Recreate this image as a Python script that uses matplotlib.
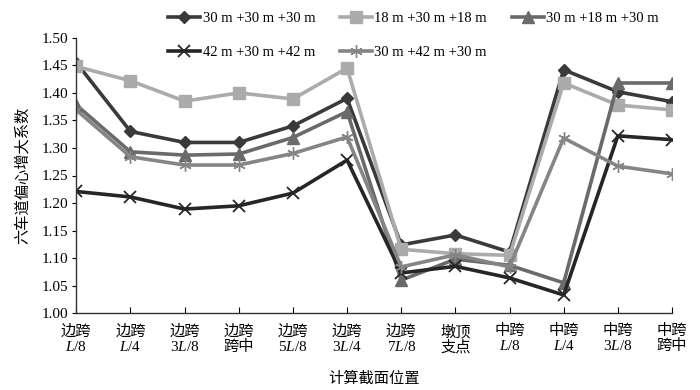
import numpy as np
import matplotlib
matplotlib.use('Agg')
import matplotlib.pyplot as plt

plt.rcParams['font.family'] = ['Liberation Serif', 'Noto Sans CJK SC']
plt.rcParams['mathtext.fontset'] = 'custom'
plt.rcParams['mathtext.rm'] = 'Liberation Serif'
plt.rcParams['mathtext.it'] = 'Liberation Serif:italic'

# section positions along the bridge
sections = ['边跨\n$L$/8', '边跨\n$L$/4', '边跨\n3$L$/8', '边跨\n跨中', '边跨\n5$L$/8',
            '边跨\n3$L$/4', '边跨\n7$L$/8', '墩顶\n支点', '中跨\n$L$/8', '中跨\n$L$/4',
            '中跨\n3$L$/8', '中跨\n跨中']

s30_30_30 = [1.455, 1.330, 1.310, 1.310, 1.340, 1.390, 1.124, 1.142, 1.111, 1.442, 1.402, 1.384]
s18_30_18 = [1.448, 1.422, 1.385, 1.400, 1.389, 1.445, 1.116, 1.108, 1.105, 1.418, 1.378, 1.369]
s30_18_30 = [1.378, 1.293, 1.287, 1.289, 1.319, 1.366, 1.060, 1.098, 1.087, 1.055, 1.418, 1.418]
s42_30_42 = [1.221, 1.211, 1.189, 1.195, 1.218, 1.278, 1.073, 1.085, 1.064, 1.033, 1.322, 1.315]
s30_42_30 = [1.369, 1.284, 1.269, 1.269, 1.290, 1.320, 1.084, 1.106, 1.084, 1.318, 1.267, 1.253]

yticks = [1.00, 1.05, 1.10, 1.15, 1.20, 1.25, 1.30, 1.35, 1.40, 1.45, 1.50]

x = np.arange(len(sections))

fig = plt.figure(figsize=(7, 3.9), dpi=100)
ax = fig.add_axes([0.109, 0.197, 0.851, 0.706])

l1, = ax.plot(x, s30_30_30, color='#3a3a3a', lw=2.6, marker='D', ms=6, label='30 m +30 m +30 m')
l2, = ax.plot(x, s18_30_18, color='#ababab', lw=2.6, marker='s', ms=8, label='18 m +30 m +18 m')
l3, = ax.plot(x, s30_18_30, color='#6a6a6a', lw=2.6, marker='^', ms=8, label='30 m +18 m +30 m')
l4, = ax.plot(x, s42_30_42, color='#262626', lw=2.6, marker='x', ms=9, mew=1.3, label='42 m +30 m +42 m')
l5, = ax.plot(x, s30_42_30, color='#858585', lw=2.6, marker=(6, 2, 0), ms=9, mew=1.0, label='30 m +42 m +30 m')

ax.set_xlim(0, 11)
ax.set_ylim(1.0, 1.5)
ax.set_xticks(x)
ax.set_xticklabels(sections, fontsize=11, linespacing=1.1)
ax.set_yticks(yticks)
ax.set_yticklabels(['%.2f' % v for v in yticks], fontsize=11)
ax.tick_params(axis='x', direction='in', length=4, pad=8)
ax.tick_params(axis='y', direction='out', length=3, pad=3)
for sp in ['top', 'right']:
    ax.spines[sp].set_visible(False)
for sp in ['left', 'bottom']:
    ax.spines[sp].set_color('#333333')
    ax.spines[sp].set_linewidth(1.0)

ax.set_ylabel('六车道偏心增大系数', fontsize=11, labelpad=8)
ax.set_xlabel('计算截面位置', fontsize=11, labelpad=12)

leg = fig.legend(handles=[l1, l4, l2, l5, l3], ncol=3, frameon=False, fontsize=10.5,
                 loc='upper left', bbox_to_anchor=(0.232, 0.985), handlelength=2.2,
                 handletextpad=0.15, columnspacing=1.7, labelspacing=1.45, borderaxespad=0)

fig.savefig('out.png', dpi=100)
